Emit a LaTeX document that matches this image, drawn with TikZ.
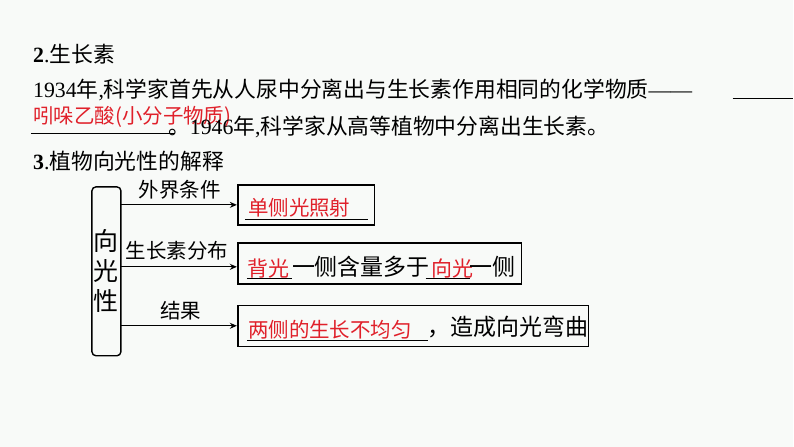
\documentclass[tikz,border=0pt]{standalone}
\usepackage{fontspec}
\setmainfont{Liberation Serif}
\newfontfamily\cjk{Noto Sans CJK SC}
\usetikzlibrary{arrows.meta}
\definecolor{bg}{HTML}{F8FAF8}
\definecolor{ans}{HTML}{E0202A}
\tikzset{x=1pt,y=-1pt,
 txt/.style={anchor=west,inner sep=0pt,font=\fontsize{21.8}{22}\selectfont},
 frame/.style={draw,line width=1.4pt},
 arr/.style={draw,line width=1.2pt,-{Stealth[length=7pt,width=6pt]}},
 lab/.style={inner sep=0pt,font=\cjk\fontsize{20.5}{21}\selectfont},
 red/.style={text=ans,font=\cjk\fontsize{20.5}{21}\selectfont},
 ul/.style={draw,line width=1.1pt}}
\begin{document}
\begin{tikzpicture}
\fill[bg] (0,0) rectangle (794,447);
\node[txt] (h2) at (33,54) {\textbf{2}.{\cjk 生长素}};
\node[txt] (l1) at (33,90) {1934{\cjk 年},{\cjk 科学家首先从人尿中分离出与生长素作用相同的化学物质}——};
\draw[ul] (733,99) -- (794,99);
\node[txt,red] (a1) at (33,117) {吲哚乙酸(小分子物质)};
\draw[ul] (31,134) -- (175,134);
\node[txt] (l2) at (168,127) {{\cjk 。}1946{\cjk 年},{\cjk 科学家从高等植物中分离出生长素。}};
\node[txt] (h3) at (33,161) {\textbf{3}.{\cjk 植物向光性的解释}};
\draw[line width=1.4pt,rounded corners=4pt] (92,187) rectangle (121,356);
\node[lab,font=\cjk\fontsize{25}{30}\selectfont,align=center] (m) at (106.5,271) {向\\光\\性};
\draw[frame] (238,185) rectangle (375,225);
\draw[frame] (238,243) rectangle (522,284);
\draw[frame] (238,306) rectangle (589,347);
\coordinate (b1) at (237,205);
\coordinate (b2) at (237,267);
\coordinate (b3) at (237,326);
\draw[arr] (121,205) -- (b1);
\draw[arr] (121,267) -- (b2);
\draw[arr] (121,326) -- (b3);
\node[lab] (t1) at (180,190) {外界条件};
\node[lab] (t2) at (177,251) {生长素分布};
\node[lab] (t3) at (181,311) {结果};
\node[txt,red] (r1) at (248,208) {单侧光照射};
\draw[ul] (245,220) -- (368,220);
\node[txt,red,font=\cjk\fontsize{21}{21}\selectfont] (r2) at (247,269) {背光};
\draw[ul] (247,279) -- (292,279);
\node[txt,font=\cjk\fontsize{23}{24}\selectfont] (r2b) at (292,267) {一侧含量多于};
\node[txt,red,font=\cjk\fontsize{21}{21}\selectfont] (r3) at (432,269) {向光};
\draw[ul] (426,279) -- (470,279);
\node[txt,font=\cjk\fontsize{23}{24}\selectfont] (r3b) at (470,267) {一侧};
\node[txt,red] (r4) at (248,330) {两侧的生长不均匀};
\draw[ul] (247,341) -- (428,341);
\node[txt,font=\cjk\fontsize{23}{24}\selectfont] (r4b) at (428,327) {，造成向光弯曲};
\end{tikzpicture}
\end{document}
